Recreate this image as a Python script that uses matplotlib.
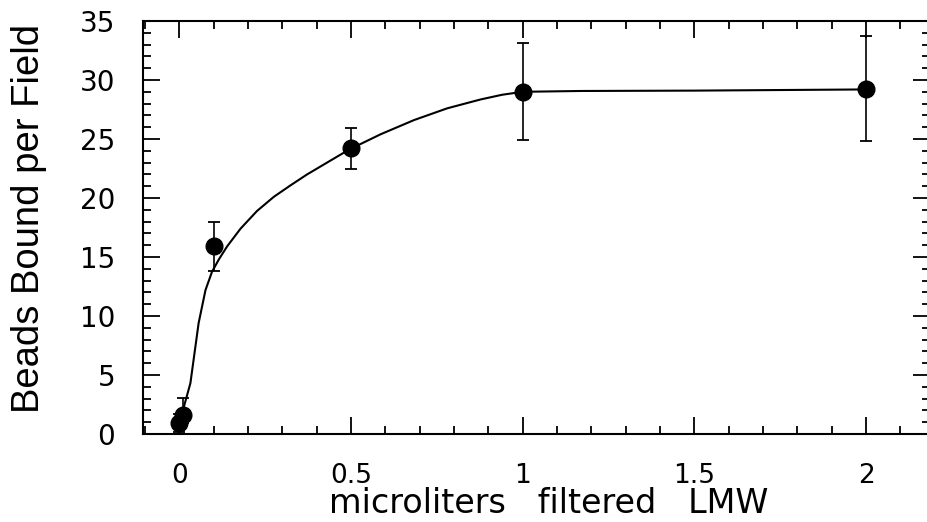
import matplotlib.pyplot as plt
from matplotlib.ticker import MultipleLocator

# measured points with error bars
dose = [0.0, 0.01, 0.1, 0.5, 1.0, 2.0]
beads = [0.95, 1.6, 15.9, 24.2, 29.0, 29.2]
err_low = [0.75, 0.7, 2.1, 1.7, 4.1, 4.4]
err_high = [0.75, 1.45, 2.1, 1.7, 4.15, 4.5]

# fitted curve
fit_x = [0.0, 0.013, 0.032, 0.056, 0.076, 0.095, 0.115, 0.139, 0.178, 0.226,
         0.275, 0.325, 0.372, 0.43, 0.494, 0.586, 0.683, 0.78, 0.877, 0.94,
         1.0, 1.17, 1.5, 2.0]
fit_y = [0.6, 2.3, 4.3, 9.4, 12.2, 13.75, 14.8, 15.9, 17.4, 18.9,
         20.1, 21.1, 22.0, 23.0, 24.1, 25.4, 26.6, 27.6, 28.35, 28.75,
         29.0, 29.07, 29.1, 29.2]

fig = plt.figure(figsize=(9.28, 5.22), dpi=100)
ax = fig.add_axes([143 / 928, 88 / 522, 787 / 928, 413 / 522])

ax.plot(fit_x, fit_y, color='black', linewidth=1.5, zorder=2)
ax.errorbar(dose, beads, yerr=[err_low, err_high], fmt='o', color='black',
            markersize=12, elinewidth=1.2, capsize=4.3, capthick=1.3, zorder=3)

ax.set_xlim(-0.106, 2.186)
ax.set_ylim(0, 35)
ax.xaxis.set_major_locator(MultipleLocator(0.5))
ax.xaxis.set_minor_locator(MultipleLocator(0.1))
ax.yaxis.set_major_locator(MultipleLocator(5))
ax.yaxis.set_minor_locator(MultipleLocator(1))
ax.set_xticks([0, 0.5, 1, 1.5, 2])
ax.set_xticklabels(['0', '0.5', '1', '1.5', '2'])

ax.tick_params(which='both', direction='in', top=True, right=True, width=1.3)
ax.tick_params(which='major', length=12)
ax.tick_params(which='minor', length=6)
ax.tick_params(axis='x', which='major', pad=21, labelsize=19)
ax.tick_params(axis='y', which='major', pad=20, labelsize=20)
for spine in ax.spines.values():
    spine.set_linewidth(1.5)

ax.set_xlabel('microliters   filtered   LMW', fontsize=24, family='DejaVu Sans', va='baseline')
ax.xaxis.set_label_coords(0.516, -0.191)
ax.set_ylabel('Beads Bound per Field', fontsize=27.5, family='Liberation Sans', va='center')
ax.yaxis.set_label_coords(-0.145, 0.523)

fig.savefig('out.png', dpi=100)
